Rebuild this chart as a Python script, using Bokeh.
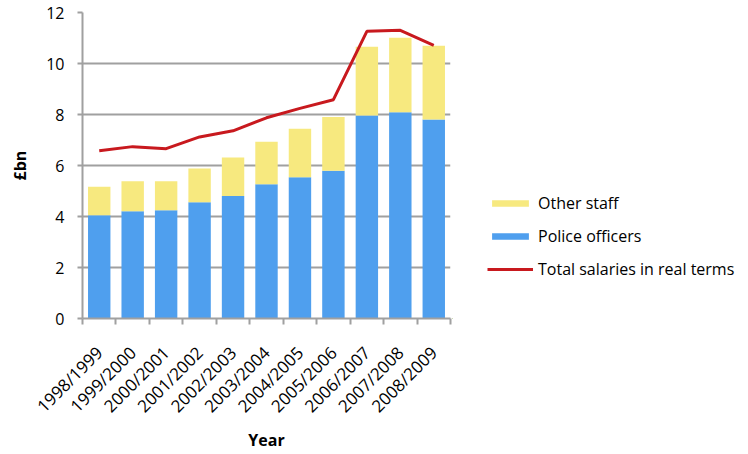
from bokeh.plotting import figure
from bokeh.layouts import row
from bokeh.models import (Range1d, FixedTicker, Legend, LegendItem, ColumnDataSource)
from bokeh.embed import file_html
from bokeh.resources import INLINE
import math

years = ["1998/1999", "1999/2000", "2000/2001", "2001/2002", "2002/2003", "2003/2004",
         "2004/2005", "2005/2006", "2006/2007", "2007/2008", "2008/2009"]
police_officers = [4.05, 4.21, 4.25, 4.56, 4.80, 5.26, 5.54, 5.79, 7.96, 8.09, 7.80]
other_staff = [1.12, 1.17, 1.13, 1.32, 1.51, 1.67, 1.90, 2.11, 2.70, 2.92, 2.90]
total_real = [6.58, 6.74, 6.66, 7.12, 7.36, 7.87, 8.24, 8.58, 11.26, 11.30, 10.71]
y_ticks = [0, 2, 4, 6, 8, 10, 12]
series_labels = ["Other staff", "Police officers", "Total salaries in real terms"]

FONT = "Open Sans"
GRID = "#A0A0A0"
BLUE = "#4F9FEE"
YELLOW = "#F7E97F"
RED = "#C8191E"

xpos = [i + 0.5 for i in range(len(years))]
src = ColumnDataSource(dict(x=xpos, police=police_officers, other=other_staff, total=total_real))

p = figure(width=452, height=454, output_backend="svg", toolbar_location=None,
           x_range=Range1d(0, len(years)), y_range=Range1d(0, 12),
           min_border_left=82, min_border_right=2, min_border_top=12, min_border_bottom=134)
p.outline_line_color = None
p.background_fill_color = "white"
p.border_fill_color = "white"

stack = p.vbar_stack(["police", "other"], x="x", width=0.67, source=src,
                     color=[BLUE, YELLOW], line_color=None)
line = p.line("x", "total", source=src, line_color=RED, line_width=3)

# axes
p.xgrid.grid_line_color = None
p.ygrid.grid_line_color = GRID
p.ygrid.grid_line_width = 2
p.yaxis.ticker = FixedTicker(ticks=y_ticks)
p.yaxis.axis_line_color = GRID
p.yaxis.axis_line_width = 2
p.yaxis.major_tick_line_color = GRID
p.yaxis.major_tick_line_width = 2
p.yaxis.major_tick_out = 5
p.yaxis.major_tick_in = 0
p.yaxis.minor_tick_line_color = None
p.yaxis.major_label_text_font = FONT
p.yaxis.major_label_text_font_size = "16px"
p.yaxis.major_label_text_color = "black"
p.yaxis.major_label_standoff = 13
p.yaxis.axis_label = "£bn"
p.yaxis.axis_label_text_font = FONT
p.yaxis.axis_label_text_font_style = "bold"
p.yaxis.axis_label_text_font_size = "16px"
p.yaxis.axis_label_text_color = "black"
p.yaxis.axis_label_standoff = 12

p.xaxis.ticker = FixedTicker(ticks=xpos, minor_ticks=list(range(len(years) + 1)))
p.xaxis.major_label_overrides = {x: y for x, y in zip(xpos, years)}
p.xaxis.major_label_orientation = math.pi / 4
p.xaxis.axis_line_color = GRID
p.xaxis.axis_line_width = 2
p.xaxis.major_tick_line_color = None
p.xaxis.major_tick_out = 0
p.xaxis.major_tick_in = 0
p.xaxis.minor_tick_line_color = GRID
p.xaxis.minor_tick_line_width = 2
p.xaxis.minor_tick_out = 6
p.xaxis.minor_tick_in = 0
p.xaxis.major_label_text_font = FONT
p.xaxis.major_label_text_font_size = "17px"
p.xaxis.major_label_text_color = "black"
p.xaxis.major_label_standoff = 25
p.xaxis.axis_label = "Year"
p.xaxis.axis_label_text_font = FONT
p.xaxis.axis_label_text_font_style = "bold"
p.xaxis.axis_label_text_font_size = "16px"
p.xaxis.axis_label_text_color = "black"
p.xaxis.axis_label_standoff = 1

# legend panel (same data, drawn out of view; only the legend shows)
q = figure(width=296, height=454, output_backend="svg", toolbar_location=None,
           x_range=Range1d(100, 101), y_range=Range1d(100, 101),
           min_border_left=0, min_border_right=0, min_border_top=12, min_border_bottom=0)
q.axis.visible = False
q.grid.grid_line_color = None
q.outline_line_color = None
q_stack = q.vbar_stack(["police", "other"], x="x", width=0.67, source=src,
                       color=[BLUE, YELLOW], line_color=None)
q_line = q.line("x", "total", source=src, line_color=RED, line_width=3)

legend = Legend(items=[
    LegendItem(label=series_labels[0], renderers=[q_stack[1]]),
    LegendItem(label=series_labels[1], renderers=[q_stack[0]]),
    LegendItem(label=series_labels[2], renderers=[q_line]),
], location=(35, 38))
legend.border_line_color = None
legend.background_fill_alpha = 0
legend.label_text_font = FONT
legend.label_text_font_size = "16px"
legend.label_text_color = "black"
legend.glyph_width = 46
legend.glyph_height = 8
legend.label_height = 20
legend.spacing = 11
legend.label_standoff = 5
legend.padding = 0
legend.margin = 0
q.add_layout(legend, "center")

layout = row(p, q)
open("out.html", "w").write(file_html(layout, INLINE))
